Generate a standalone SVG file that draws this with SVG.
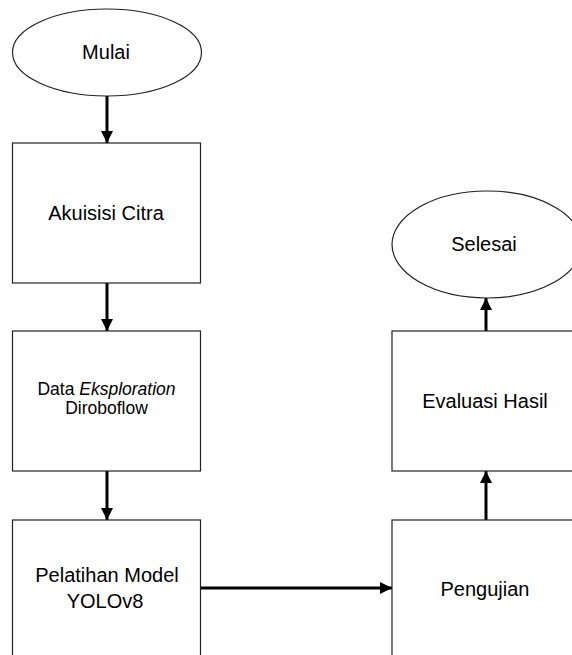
<svg xmlns="http://www.w3.org/2000/svg" width="572" height="655" viewBox="0 0 572 655">
<defs>
<style>
.n{fill:#fff;stroke:#222;stroke-width:1.2}
.t{font-family:"Liberation Sans",Arial,sans-serif;font-size:20px;fill:#000;text-anchor:middle}
.s{font-size:17.5px}
.c{stroke:#000;stroke-width:3;fill:none}
</style>
<marker id="ah" viewBox="0 0 10 10" refX="10" refY="5" markerWidth="4" markerHeight="4" markerUnits="strokeWidth" orient="auto">
<path d="M0,0L10,5L0,10z" fill="#000"/>
</marker>
</defs>
<rect width="572" height="655" fill="#fff"/>
<g id="connectors">
<line class="c" x1="107" y1="96" x2="107" y2="143" marker-end="url(#ah)"/>
<line class="c" x1="107" y1="283" x2="107" y2="331" marker-end="url(#ah)"/>
<line class="c" x1="107" y1="471" x2="107" y2="520" marker-end="url(#ah)"/>
<line class="c" x1="200" y1="588" x2="392" y2="588" marker-end="url(#ah)"/>
<line class="c" x1="486" y1="520" x2="486" y2="471" marker-end="url(#ah)"/>
<line class="c" x1="486" y1="331" x2="486" y2="298" marker-end="url(#ah)"/>
</g>
<g id="mulai">
<ellipse class="n" cx="107" cy="52.5" rx="94.5" ry="43.5"/>
<text class="t" x="106" y="59">Mulai</text>
</g>
<g id="akuisisi">
<rect class="n" x="12.5" y="143" width="188" height="140"/>
<text class="t" x="106" y="220">Akuisisi Citra</text>
</g>
<g id="eksplorasi">
<rect class="n" x="12.5" y="331" width="188" height="140"/>
<text class="t s" x="106.5" y="395">Data <tspan font-style="italic">Eksploration</tspan></text>
<text class="t s" x="106.5" y="414">Diroboflow</text>
</g>
<g id="pelatihan">
<rect class="n" x="12.5" y="520" width="188" height="150"/>
<text class="t" x="107" y="582">Pelatihan Model</text>
<text class="t" x="105" y="608">YOLOv8</text>
</g>
<g id="pengujian">
<rect class="n" x="392" y="520" width="188" height="150"/>
<text class="t" x="485" y="596">Pengujian</text>
</g>
<g id="evaluasi">
<rect class="n" x="392" y="331" width="188" height="140"/>
<text class="t" x="485" y="408">Evaluasi Hasil</text>
</g>
<g id="selesai">
<ellipse class="n" cx="487" cy="244.5" rx="95" ry="53.5"/>
<text class="t" x="484" y="251">Selesai</text>
</g>
</svg>
